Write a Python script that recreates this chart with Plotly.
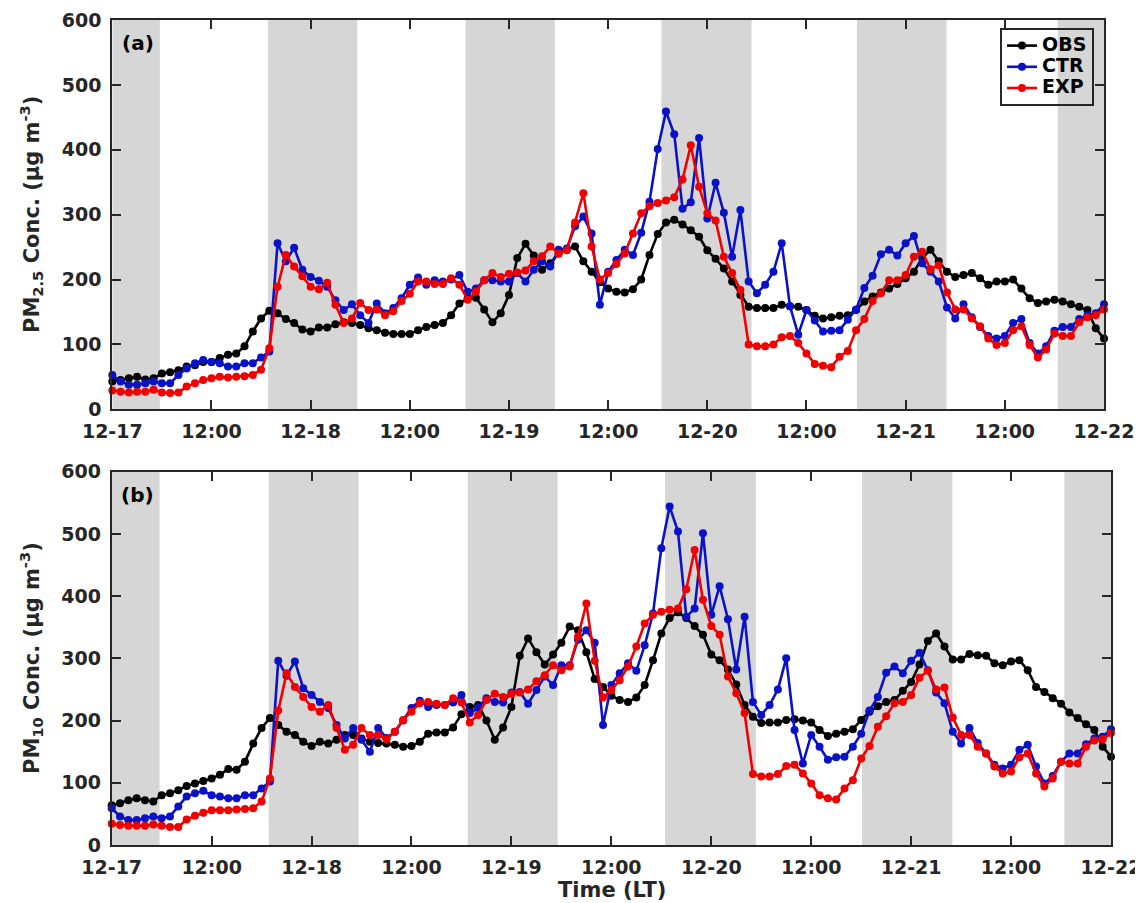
import plotly.graph_objects as go

# ---------------- data ----------------
hours = list(range(121))  # hourly, 12-17 00:00 .. 12-22 00:00 (LT)
tick_vals = list(range(0, 121, 12))
tick_text = ["12-17", "12:00", "12-18", "12:00", "12-19", "12:00",
             "12-20", "12:00", "12-21", "12:00", "12-22"]
y_ticks = [0, 100, 200, 300, 400, 500, 600]

# night-time shaded periods (hours since 12-17 00:00)
night_start = [0, 18.85, 42.75, 66.45, 90.1, 114.4]
night_end = [5.75, 29.65, 53.55, 77.35, 100.95, 120]

series_names = ["OBS", "CTR", "EXP"]

pm25_obs = [43, 45, 48, 50, 46, 48, 55, 57, 60, 66,
            68, 73, 73, 79, 84, 86, 97, 120, 140, 152,
            148, 139, 133, 123, 120, 126, 126, 131, 134, 133,
            130, 125, 122, 118, 116, 116, 116, 122, 127, 130,
            133, 145, 163, 171, 172, 154, 134, 148, 176, 233,
            255, 237, 215, 225, 240, 246, 251, 228, 212, 196,
            186, 181, 180, 185, 200, 238, 270, 288, 292, 285,
            276, 266, 245, 232, 217, 197, 176, 158, 156, 156,
            156, 161, 159, 158, 153, 144, 140, 142, 144, 145,
            153, 166, 174, 180, 186, 193, 202, 212, 233, 246,
            228, 212, 204, 207, 210, 202, 192, 197, 197, 200,
            186, 171, 164, 166, 169, 166, 162, 158, 153, 125, 109]
pm25_ctr = [53, 43, 38, 38, 40, 43, 40, 40, 53, 63,
            71, 76, 73, 71, 66, 66, 71, 71, 80, 89,
            256, 228, 249, 215, 204, 198, 189, 168, 153, 162,
            145, 133, 163, 148, 156, 171, 192, 203, 192, 199,
            197, 200, 207, 181, 186, 199, 199, 197, 197, 210,
            197, 215, 228, 220, 246, 248, 282, 297, 271, 161,
            212, 230, 246, 238, 272, 320, 401, 459, 424, 309,
            319, 418, 294, 349, 303, 235, 307, 197, 179, 192,
            212, 256, 159, 115, 153, 137, 120, 121, 122, 138,
            154, 187, 206, 239, 246, 237, 256, 267, 225, 212,
            197, 157, 140, 162, 142, 127, 113, 109, 113, 133,
            139, 102, 86, 97, 121, 127, 127, 139, 145, 148, 162]
pm25_exp = [29, 27, 26, 27, 27, 30, 26, 25, 26, 35,
            40, 45, 48, 50, 49, 50, 51, 53, 61, 94,
            189, 238, 220, 205, 189, 185, 195, 161, 133, 140,
            164, 153, 154, 145, 151, 167, 178, 197, 197, 193,
            193, 202, 192, 169, 181, 199, 210, 204, 209, 211,
            214, 228, 236, 251, 240, 245, 288, 333, 251, 200,
            210, 224, 240, 271, 302, 313, 318, 322, 327, 354,
            407, 343, 302, 291, 235, 210, 184, 100, 97, 97,
            100, 111, 113, 102, 86, 70, 67, 65, 81, 90,
            122, 139, 167, 179, 199, 199, 207, 235, 243, 216,
            222, 180, 154, 154, 140, 128, 109, 99, 102, 122,
            128, 99, 80, 92, 117, 113, 113, 134, 142, 145, 154]

pm10_obs = [64, 67, 72, 75, 72, 70, 80, 83, 88, 95,
            99, 103, 107, 113, 122, 121, 134, 163, 188, 204,
            193, 182, 177, 166, 159, 166, 163, 169, 177, 177,
            171, 166, 164, 163, 161, 158, 159, 166, 179, 181,
            181, 189, 210, 222, 225, 200, 169, 189, 222, 304,
            332, 310, 290, 306, 325, 351, 345, 310, 267, 254,
            240, 233, 230, 237, 257, 297, 340, 365, 374, 365,
            352, 338, 306, 297, 282, 258, 225, 206, 196, 197,
            197, 201, 202, 200, 197, 185, 175, 179, 182, 186,
            201, 214, 223, 230, 233, 248, 262, 290, 328, 340,
            319, 298, 298, 307, 305, 304, 292, 289, 295, 297,
            281, 254, 246, 236, 227, 213, 204, 194, 185, 158, 142]
pm10_ctr = [59, 46, 40, 40, 43, 46, 43, 46, 62, 78,
            83, 87, 80, 78, 75, 75, 80, 80, 91, 102,
            296, 272, 295, 252, 241, 230, 220, 193, 171, 188,
            169, 150, 188, 172, 182, 200, 220, 232, 222, 225,
            225, 229, 241, 212, 220, 236, 230, 229, 245, 246,
            227, 249, 271, 257, 289, 289, 330, 345, 325, 193,
            257, 276, 292, 280, 321, 372, 477, 544, 504, 367,
            380, 501, 370, 416, 363, 282, 367, 230, 209, 225,
            250, 300, 185, 131, 177, 158, 137, 141, 142, 158,
            179, 216, 238, 277, 287, 276, 296, 309, 281, 245,
            228, 182, 163, 188, 164, 147, 129, 123, 129, 153,
            161, 126, 99, 111, 134, 147, 147, 162, 171, 174, 186]
pm10_exp = [34, 32, 31, 31, 31, 33, 31, 29, 29, 41,
            47, 52, 56, 56, 56, 57, 58, 59, 70, 107,
            216, 276, 254, 238, 222, 214, 225, 188, 153, 161,
            188, 177, 177, 170, 182, 201, 214, 228, 230, 227,
            225, 236, 229, 197, 209, 233, 243, 238, 243, 245,
            250, 263, 273, 289, 281, 287, 335, 388, 296, 237,
            249, 265, 287, 319, 356, 370, 375, 378, 380, 411,
            474, 394, 352, 338, 271, 244, 212, 114, 110, 110,
            114, 127, 129, 115, 99, 80, 75, 73, 91, 104,
            139, 159, 190, 207, 228, 230, 241, 269, 280, 250,
            253, 205, 177, 177, 158, 147, 126, 115, 118, 141,
            147, 115, 94, 107, 134, 131, 131, 158, 168, 170, 180]

# ---------------- style / layout ----------------
OFF = 8                      # default page (body) margin of the html page
W, H = 1143 - OFF, 903 - OFF  # figure fills the rest of the window


def px(x):   # page pixel -> paper x
    return (x - OFF) / W


def py(y):   # page pixel -> paper y
    return 1 - (y - OFF) / H


colors = {"OBS": "#000000", "CTR": "#0a12c8", "EXP": "#f20000"}
FONT = "DejaVu Sans"
AX = "#262626"
BAND = "#d6d6d6"

fig = go.Figure()

panels = [
    ("x", "y", {"OBS": pm25_obs, "CTR": pm25_ctr, "EXP": pm25_exp}, True),
    ("x2", "y2", {"OBS": pm10_obs, "CTR": pm10_ctr, "EXP": pm10_exp}, False),
]

for xa, ya, data, show_leg in panels:
    for name in series_names:
        fig.add_trace(go.Scatter(
            x=hours, y=data[name],
            name='<span style="font-size:19px">' + name + '</span>',
            xaxis=xa, yaxis=ya,
            mode="lines+markers", showlegend=show_leg, cliponaxis=False,
            line=dict(color=colors[name], width=2.6),
            marker=dict(color=colors[name], size=8, symbol="circle"),
        ))
    for s, e in zip(night_start, night_end):
        fig.add_shape(type="rect", xref=xa, yref=ya + " domain",
                      x0=s, x1=e, y0=0, y1=1, fillcolor=BAND,
                      line=dict(width=0), layer="below")

tickfont = dict(family=FONT, size=19, color=AX, weight="bold")


def xaxis_cfg(domain, anchor):
    return dict(domain=domain, anchor=anchor, range=[0, 120],
                tickmode="array", tickvals=tick_vals, ticktext=tick_text,
                ticks="inside", ticklen=9, tickwidth=2, tickcolor=AX,
                showline=True, linecolor=AX, linewidth=2, mirror="ticks",
                showgrid=False, zeroline=False, tickfont=tickfont,
                ticklabelstandoff=4, automargin=False)


def yaxis_cfg(domain, anchor):
    return dict(domain=domain, anchor=anchor, range=[0, 600],
                tickmode="array", tickvals=y_ticks,
                ticks="inside", ticklen=9, tickwidth=2, tickcolor=AX,
                showline=True, linecolor=AX, linewidth=2, mirror="ticks",
                showgrid=False, zeroline=False, tickfont=tickfont,
                ticklabelstandoff=5, automargin=False)


lab_font = dict(family=FONT, size=20, color="black", weight="bold")
ttl_font = dict(family=FONT, size=21, color=AX, weight="bold")

fig.update_layout(
    width=W, height=H,
    margin=dict(l=0, r=0, t=0, b=0, pad=0, autoexpand=False),
    paper_bgcolor="white", plot_bgcolor="white",
    xaxis=xaxis_cfg([px(112.3), px(1104)], "y"),
    yaxis=yaxis_cfg([py(409.3), py(20)], "x"),
    xaxis2=xaxis_cfg([px(111.7), px(1111)], "y2"),
    yaxis2=yaxis_cfg([py(845), py(471.7)], "x2"),
    legend=dict(x=px(1094), xanchor="right", y=py(28), yanchor="top",
                bgcolor="rgba(0,0,0,0)", bordercolor=AX, borderwidth=2,
                font=dict(family=FONT, size=14, color="black", weight="bold"),
                itemwidth=30, tracegroupgap=0, traceorder="normal"),
    annotations=[
        dict(text="(a)", x=px(138), y=py(43), xref="paper", yref="paper",
             xanchor="center", yanchor="middle", showarrow=False, font=lab_font),
        dict(text="(b)", x=px(137), y=py(495), xref="paper", yref="paper",
             xanchor="center", yanchor="middle", showarrow=False, font=lab_font),
        dict(text="PM<sub>2.5</sub> Conc. (μg m<sup>-3</sup>)", textangle=-90,
             x=px(31), y=py(215), xref="paper", yref="paper",
             xanchor="center", yanchor="middle", showarrow=False, font=ttl_font),
        dict(text="PM<sub>10</sub> Conc. (μg m<sup>-3</sup>)", textangle=-90,
             x=px(31), y=py(658), xref="paper", yref="paper",
             xanchor="center", yanchor="middle", showarrow=False, font=ttl_font),
        dict(text="Time (LT)", x=px(612), y=py(890), xref="paper", yref="paper",
             xanchor="center", yanchor="middle", showarrow=False,
             font=dict(family=FONT, size=21, color=AX, weight="bold")),
    ],
)

fig.write_html("out.html")
